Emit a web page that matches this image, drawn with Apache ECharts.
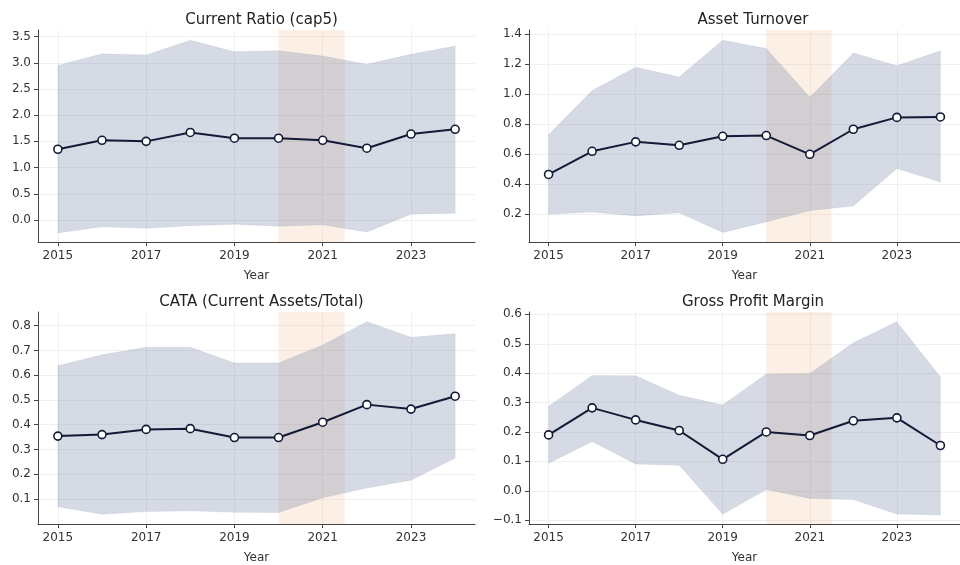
<!DOCTYPE html>
<html>
<head>
<meta charset="utf-8">
<script src="https://cdn.jsdelivr.net/npm/echarts@6/dist/echarts.min.js"></script>
<style>
  html, body { margin: 0; padding: 0; background: #ffffff; }
  #chart { width: 960px; height: 565px; }
</style>
</head>
<body>
<div id="chart"></div>
<script>
// Yearly observations
const years = [2015, 2016, 2017, 2018, 2019, 2020, 2021, 2022, 2023, 2024];
const xTicks = [2015, 2017, 2019, 2021, 2023];

// Current Ratio (cap5): mean with lower / upper band
const crMean  = [1.35, 1.52, 1.50, 1.67, 1.56, 1.56, 1.52, 1.37, 1.64, 1.73];
const crUpper = [2.95, 3.17, 3.15, 3.43, 3.21, 3.23, 3.13, 2.97, 3.16, 3.32];
const crLower = [-0.25, -0.13, -0.16, -0.11, -0.08, -0.12, -0.09, -0.23, 0.11, 0.13];
const crTicks = [0.0, 0.5, 1.0, 1.5, 2.0, 2.5, 3.0, 3.5];

// Asset Turnover
const atMean  = [0.466, 0.620, 0.683, 0.660, 0.720, 0.725, 0.600, 0.767, 0.846, 0.849];
const atUpper = [0.73, 1.025, 1.18, 1.115, 1.36, 1.305, 0.98, 1.275, 1.19, 1.29];
const atLower = [0.20, 0.215, 0.19, 0.21, 0.08, 0.15, 0.225, 0.255, 0.505, 0.415];
const atTicks = [0.2, 0.4, 0.6, 0.8, 1.0, 1.2, 1.4];

// CATA (Current Assets/Total)
const cataMean  = [0.354, 0.360, 0.381, 0.384, 0.348, 0.348, 0.410, 0.481, 0.463, 0.515];
const cataUpper = [0.638, 0.682, 0.713, 0.713, 0.649, 0.649, 0.722, 0.816, 0.753, 0.767];
const cataLower = [0.069, 0.038, 0.049, 0.052, 0.046, 0.045, 0.105, 0.144, 0.176, 0.265];
const cataTicks = [0.1, 0.2, 0.3, 0.4, 0.5, 0.6, 0.7, 0.8];

// Gross Profit Margin
const gpmMean  = [0.190, 0.282, 0.241, 0.205, 0.107, 0.200, 0.188, 0.238, 0.248, 0.154];
const gpmUpper = [0.287, 0.392, 0.391, 0.325, 0.292, 0.397, 0.399, 0.503, 0.575, 0.387];
const gpmLower = [0.094, 0.168, 0.091, 0.087, -0.080, 0.004, -0.026, -0.030, -0.079, -0.082];
const gpmTicks = [-0.1, 0.0, 0.1, 0.2, 0.3, 0.4, 0.5, 0.6];

// Highlighted period
const spanStart = 2020;
const spanEnd = 2021.5;

const FONT = 'DejaVu Sans';
const NAVY = '#131a36';
const AXIS = '#444444';

const panels = [
  { title: 'Current Ratio (cap5)', mean: crMean, upper: crUpper, lower: crLower, ticks: crTicks,
    yMin: -0.42, yMax: 3.625, grid: { left: 38, top: 30, width: 437, height: 212 } },
  { title: 'Asset Turnover', mean: atMean, upper: atUpper, lower: atLower, ticks: atTicks,
    yMin: 0.016, yMax: 1.428, grid: { left: 529, top: 30, width: 438, height: 212 } },
  { title: 'CATA (Current Assets/Total)', mean: cataMean, upper: cataUpper, lower: cataLower, ticks: cataTicks,
    yMin: -0.001, yMax: 0.855, grid: { left: 38, top: 312, width: 437, height: 213 } },
  { title: 'Gross Profit Margin', mean: gpmMean, upper: gpmUpper, lower: gpmLower, ticks: gpmTicks,
    yMin: -0.113, yMax: 0.608, grid: { left: 529, top: 312, width: 438, height: 213 } }
];

const fmtY = v => (v < 0 ? '\u2212' : '') + Math.abs(v).toFixed(1);

const option = {
  animation: false,
  backgroundColor: '#ffffff',
  textStyle: { fontFamily: FONT },
  title: [], grid: [], xAxis: [], yAxis: [], series: []
};

panels.forEach((p, i) => {
  option.grid.push(Object.assign({ containLabel: false }, p.grid));
  option.title.push({
    text: p.title,
    left: p.grid.left + p.grid.width / 2,
    top: p.grid.top - 22,
    textAlign: 'center',
    textStyle: { fontFamily: FONT, fontSize: 15, fontWeight: 'normal', color: '#222222' }
  });
  option.xAxis.push({
    type: 'value', gridIndex: i, min: 2014.55, max: 2024.45,
    name: 'Year', nameLocation: 'middle', nameGap: 28,
    nameTextStyle: { fontFamily: FONT, fontSize: 12, color: '#333333' },
    axisLine: { show: true, onZero: false, lineStyle: { color: AXIS, width: 1 } },
    axisTick: { show: true, length: 4, customValues: xTicks, lineStyle: { color: AXIS } },
    axisLabel: { customValues: xTicks, margin: 8, fontFamily: FONT, fontSize: 12, color: '#333333',
                 formatter: v => String(v) },
    splitLine: { show: true, lineStyle: { color: '#ececec', width: 0.8 } }
  });
  option.yAxis.push({
    type: 'value', gridIndex: i, min: p.yMin, max: p.yMax,
    axisLine: { show: true, onZero: false, lineStyle: { color: AXIS, width: 1 } },
    axisTick: { show: true, length: 4, customValues: p.ticks, lineStyle: { color: AXIS } },
    axisLabel: { customValues: p.ticks, margin: 7, fontFamily: FONT, fontSize: 12, color: '#333333',
                 formatter: fmtY },
    splitLine: { show: true, lineStyle: { color: '#ececec', width: 0.8 } }
  });

  // Shaded band between lower and upper bounds, drawn as one polygon
  option.series.push({
    type: 'custom', xAxisIndex: i, yAxisIndex: i, z: 2, silent: true,
    data: years.map((y, k) => [y, p.lower[k], p.upper[k]]),
    renderItem: (params, api) => {
      if (params.dataIndex !== 0) return null;
      const pts = [];
      years.forEach((y, k) => pts.push(api.coord([y, p.upper[k]])));
      for (let k = years.length - 1; k >= 0; k--) pts.push(api.coord([years[k], p.lower[k]]));
      return {
        type: 'polygon',
        shape: { points: pts },
        style: { fill: 'rgba(100,120,155,0.27)', stroke: 'rgba(100,120,155,0.10)', lineWidth: 1 }
      };
    }
  });

  // Highlighted period
  option.series.push({
    type: 'line', xAxisIndex: i, yAxisIndex: i, z: 3, data: [], silent: true,
    markArea: {
      silent: true,
      itemStyle: { color: 'rgba(240,180,140,0.22)' },
      data: [[{ xAxis: spanStart }, { xAxis: spanEnd }]]
    }
  });

  // Mean line with hollow markers
  option.series.push({
    type: 'line', xAxisIndex: i, yAxisIndex: i, z: 4,
    data: years.map((y, k) => [y, p.mean[k]]),
    symbol: 'circle', symbolSize: 8,
    lineStyle: { color: NAVY, width: 2 },
    itemStyle: { color: '#ffffff', borderColor: NAVY, borderWidth: 1.6 }
  });
});

const chart = echarts.init(document.getElementById('chart'), null, { renderer: 'canvas' });
chart.setOption(option);
</script>
</body>
</html>
